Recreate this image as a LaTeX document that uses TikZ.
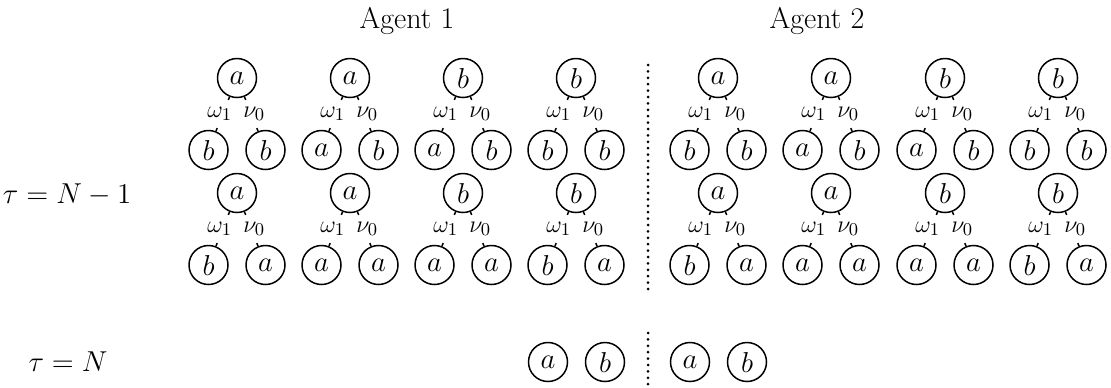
\documentclass[tikz,border=0pt]{standalone}
\usetikzlibrary{calc}
\tikzset{
  st/.style={circle,draw,line width=0.75pt,minimum size=19.5pt,inner sep=0pt,font=\fontsize{14.5}{16}\selectfont},
  lab/.style={inner sep=0pt,font=\fontsize{13}{15}\selectfont},
  stub/.style={line width=0.75pt},
  title/.style={font=\fontsize{15}{17}\selectfont,anchor=base},
  tlab/.style={font=\fontsize{14.5}{17}\selectfont},
  sep/.style={line width=1.5pt,line cap=round,dash pattern=on 0pt off 3.2pt}
}
\newcommand\treeedge[4]{%
  \path (#1) -- (#2) node[lab,pos=.5,xshift=#4]{$#3$}
    coordinate[pos=0](tA) coordinate[pos=0.09](tB)
    coordinate[pos=0.91](tC) coordinate[pos=1](tD);
  \draw[stub] (tA)--(tB) (tC)--(tD);}
\newcommand\minitree[6]{%
  \node[st] (#1t) at (#2,#3) {$#4$};
  \node[st] (#1l) at ($(#2,#3)+(-28.5,72)$) {$#5$};
  \node[st] (#1r) at ($(#2,#3)+(28.5,72)$) {$#6$};
  \treeedge{#1t}{#1l}{\omega_1}{-1.5pt}
  \treeedge{#1t}{#1r}{\nu_0}{1.5pt}}
\begin{document}
\begin{tikzpicture}[x=0.5pt,y=-0.5pt]
\useasboundingbox (0,0) rectangle (1111,387);
\node[title] (ag1) at (407,28) {Agent 1};
\node[title] (ag2) at (817,28) {Agent 2};
\node[tlab] (tau1) at (67,195) {$\tau = N-1$};
\node[tlab] (tau2) at (68,362) {$\tau = N$};
% Agent 1
\minitree{Pa}{237}{78}{a}{b}{b}
\minitree{Pb}{350}{78}{a}{a}{b}
\minitree{Pc}{463}{78}{b}{a}{b}
\minitree{Pd}{576}{78}{b}{b}{b}
\minitree{Qa}{237}{193}{a}{b}{a}
\minitree{Qb}{350}{193}{a}{a}{a}
\minitree{Qc}{463}{193}{b}{a}{a}
\minitree{Qd}{576}{193}{b}{b}{a}
% Agent 2
\minitree{Ra}{718}{78}{a}{b}{b}
\minitree{Rb}{831}{78}{a}{a}{b}
\minitree{Rc}{945}{78}{b}{a}{b}
\minitree{Rd}{1058}{78}{b}{b}{b}
\minitree{Sa}{718}{193}{a}{b}{a}
\minitree{Sb}{831}{193}{a}{a}{a}
\minitree{Sc}{945}{193}{b}{a}{a}
\minitree{Sd}{1058}{193}{b}{b}{a}
% tau = N
\node[st] (n1) at (548,362) {$a$};
\node[st] (n2) at (605,362) {$b$};
\node[st] (n3) at (690,362) {$a$};
\node[st] (n4) at (747,362) {$b$};
% separators
\coordinate (d1a) at (648,65);
\coordinate (d1b) at (648,290);
\coordinate (d2a) at (648,333);
\coordinate (d2b) at (648,386);
\draw[sep] (d1a) -- (d1b);
\draw[sep] (d2a) -- (d2b);
\end{tikzpicture}
\end{document}
